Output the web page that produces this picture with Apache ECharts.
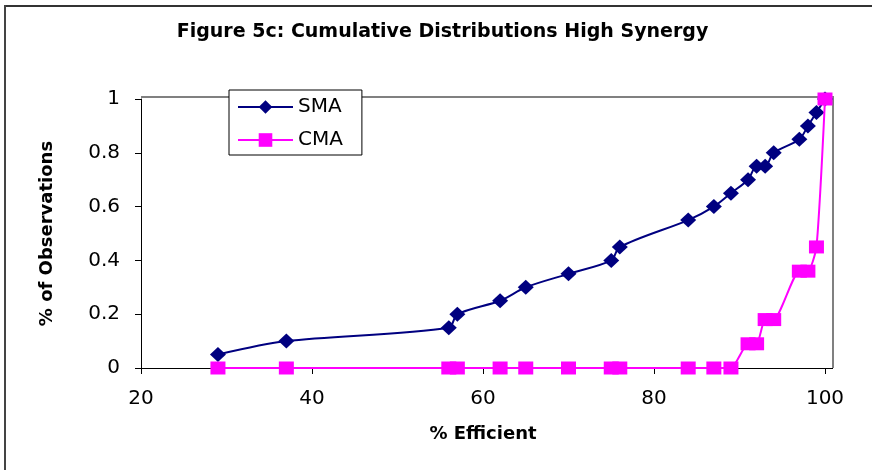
<!DOCTYPE html>
<html>
<head>
<meta charset="utf-8">
<script src="https://cdn.jsdelivr.net/npm/echarts@6/dist/echarts.min.js"></script>
<style>
html,body{margin:0;padding:0;background:#fff;}
#chart{width:872px;height:470px;}
</style>
</head>
<body>
<div id="chart"></div>
<script>
// ---- data ----
const efficiency = [29, 37, 56, 57, 62, 65, 70, 75, 76, 84, 87, 89, 91, 92, 93, 94, 97, 98, 99, 100];
const smaValues  = [0.05, 0.10, 0.15, 0.20, 0.25, 0.30, 0.35, 0.40, 0.45, 0.55, 0.60, 0.65, 0.70, 0.75, 0.75, 0.80, 0.85, 0.90, 0.95, 1.00];
const cmaValues  = [0, 0, 0, 0, 0, 0, 0, 0, 0, 0, 0, 0, 0.09, 0.09, 0.18, 0.18, 0.36, 0.36, 0.45, 1.00];
const seriesNames = ['SMA', 'CMA'];
const chartTitle = 'Figure 5c: Cumulative Distributions High Synergy';
const xTitle = '% Efficient';
const yTitle = '% of Observations';

const pairs = (xs, ys) => xs.map((x, i) => [x, ys[i]]);

const chart = echarts.init(document.getElementById('chart'), null, {renderer: 'canvas'});
const labelFont = {fontFamily: 'DejaVu Sans', fontSize: 20, color: '#000'};
const boldFont = {fontFamily: 'DejaVu Sans', fontWeight: 'bold', color: '#000'};

chart.setOption({
  animation: false,
  backgroundColor: '#fff',
  grid: {left: 141, right: 47, top: 99, bottom: 102, containLabel: false},
  xAxis: {
    type: 'value', min: 20, max: 100, interval: 20,
    name: xTitle, nameLocation: 'middle', nameGap: 57,
    nameTextStyle: Object.assign({fontSize: 18}, boldFont),
    axisLine: {show: true, onZero: false, lineStyle: {color: '#000', width: 1}},
    axisTick: {show: true, inside: false, length: 6, lineStyle: {color: '#000'}},
    axisLabel: Object.assign({margin: 21}, labelFont),
    splitLine: {show: false}
  },
  yAxis: {
    type: 'value', min: 0, max: 1, interval: 0.2,
    name: yTitle, nameLocation: 'middle', nameGap: 85, nameRotate: 90,
    nameTextStyle: Object.assign({fontSize: 18}, boldFont),
    axisLine: {show: true, lineStyle: {color: '#000', width: 1}},
    axisTick: {show: true, inside: false, length: 6, lineStyle: {color: '#000'}},
    axisLabel: Object.assign({margin: 21}, labelFont),
    splitLine: {show: false}
  },
  legend: {
    orient: 'vertical', left: 229, top: 90,
    padding: [7, 19, 5, 8], itemGap: 13, itemWidth: 55, itemHeight: 17,
    borderColor: '#000', borderWidth: 1, backgroundColor: '#fff',
    textStyle: labelFont,
    data: seriesNames
  },
  graphic: [
    {type: 'line', shape: {x1: 4, y1: 6, x2: 872, y2: 6}, style: {stroke: '#333', lineWidth: 2}, silent: true},
    {type: 'line', shape: {x1: 5, y1: 5, x2: 5, y2: 470}, style: {stroke: '#444', lineWidth: 2}, silent: true},
    {type: 'polyline', shape: {points: [[141, 97], [833, 97], [833, 368]]}, style: {stroke: '#808080', lineWidth: 2, fill: null}, silent: true, z: -1},
    {type: 'line', shape: {x1: 825, y1: 368.5, x2: 833, y2: 368.5}, style: {stroke: '#000', lineWidth: 1}, silent: true},
    {type: 'text', x: 442.5, y: 32, style: {text: chartTitle, fontFamily: 'DejaVu Sans', fontWeight: 'bold', fontSize: 19, fill: '#000', textAlign: 'center', textVerticalAlign: 'middle'}, silent: true}
  ],
  series: [
    {
      name: seriesNames[0], type: 'line', data: pairs(efficiency, smaValues),
      smooth: 0.3, symbol: 'diamond', symbolSize: [16, 15],
      lineStyle: {color: '#000080', width: 2}, itemStyle: {color: '#000080'},
      z: 2
    },
    {
      name: seriesNames[1], type: 'line', data: pairs(efficiency, cmaValues),
      smooth: 0.2, symbol: 'rect', symbolSize: [15, 13],
      lineStyle: {color: '#FF00FF', width: 2}, itemStyle: {color: '#FF00FF'},
      z: 3
    }
  ]
});
</script>
</body>
</html>
